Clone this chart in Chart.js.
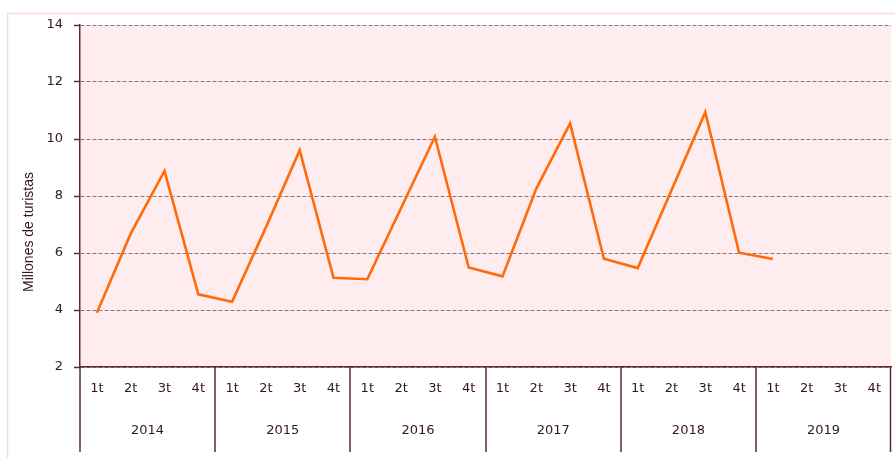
<!DOCTYPE html>
<html lang="es">
<head>
    <meta charset="UTF-8">
    <title>Millones de turistas por trimestre</title>
    <script src="https://cdn.jsdelivr.net/npm/chart.js"></script>
    <style>
        html, body { margin: 0; padding: 0; background: #fff; }
    </style>
</head>
<body>
    <canvas id="turistasChart" width="895" height="458"></canvas>

    <script>
        // datos
        const years = ['2014', '2015', '2016', '2017', '2018', '2019'];
        const quarters = ['1t', '2t', '3t', '4t'];
        const turistas = [
            3.90, 6.68, 8.88, 4.55,
            4.29, 6.90, 9.61, 5.13,
            5.08, 7.58, 10.08, 5.49,
            5.18, 8.26, 10.55, 5.80,
            5.47, 8.20, 10.94, 6.01,
            5.79, null, null, null
        ];
        const yMin = 2, yMax = 14, yStep = 2;
        const yTitle = 'Millones de turistas';

        const labels = years.flatMap(() => quarters);
        const textColor = '#331818';
        const axisColor = '#5e2c2c';
        const font = { family: 'DejaVu Sans', size: 13 };

        // fondo, marco y separadores de años
        const decor = {
            id: 'decor',
            beforeDraw(chart) {
                const { ctx, chartArea: a } = chart;
                ctx.save();
                ctx.fillStyle = '#ffecee';
                ctx.fillRect(a.left, a.top, a.right - a.left, a.bottom - a.top);
                ctx.strokeStyle = '#f8d9db';
                ctx.lineWidth = 1.5;
                ctx.beginPath();
                ctx.moveTo(7.5, 470);
                ctx.lineTo(7.5, 13.5);
                ctx.lineTo(905, 13.5);
                ctx.stroke();
                ctx.restore();
            },
            afterDraw(chart) {
                const { ctx, chartArea: a } = chart;
                const x2 = chart.scales.x2;
                const step = (x2.right - x2.left) / years.length;
                ctx.save();
                ctx.strokeStyle = axisColor;
                ctx.lineWidth = 1.5;
                ctx.beginPath();
                for (let k = 0; k <= years.length; k++) {
                    const px = Math.round(x2.left + k * step) + (k === years.length ? -0.5 : 0);
                    ctx.moveTo(px, a.bottom);
                    ctx.lineTo(px, x2.bottom);
                }
                ctx.stroke();

                // título del eje y
                ctx.fillStyle = textColor;
                ctx.font = '14px "Liberation Sans"';
                ctx.textAlign = 'center';
                ctx.textBaseline = 'middle';
                ctx.translate(29, 232);
                ctx.rotate(-Math.PI / 2);
                ctx.fillText(yTitle, 0, 0);
                ctx.restore();
            }
        };

        const chart = new Chart(document.getElementById('turistasChart'), {
            type: 'line',
            data: {
                labels: labels,
                datasets: [{
                    label: yTitle,
                    data: turistas,
                    borderColor: '#ff6a0a',
                    borderWidth: 2.6,
                    pointRadius: 0,
                    tension: 0,
                    fill: false
                }]
            },
            options: {
                responsive: false,
                animation: false,
                layout: { padding: { left: 0, right: 1, top: 25, bottom: 6 } },
                plugins: {
                    legend: { display: false },
                    tooltip: { enabled: false }
                },
                scales: {
                    y: {
                        min: yMin,
                        max: yMax,
                        afterFit: s => { s.width = 80; },
                        ticks: { stepSize: yStep, color: textColor, font: font, padding: 11 },
                        grid: {
                            color: '#85787f',
                            lineWidth: 1,
                            drawTicks: true,
                            tickLength: 6,
                            tickColor: axisColor,
                            tickBorderDash: [],
                            tickWidth: 1.5
                        },
                        border: { display: true, color: axisColor, width: 1.5, dash: [4, 2] }
                    },
                    x: {
                        type: 'category',
                        offset: true,
                        afterFit: s => { s.height = 42; },
                        ticks: { color: textColor, font: font, padding: 14, autoSkip: false, maxRotation: 0 },
                        grid: { display: false, drawTicks: false },
                        border: { display: true, color: axisColor, width: 1.5 }
                    },
                    x2: {
                        type: 'category',
                        position: 'bottom',
                        labels: years,
                        offset: true,
                        afterFit: s => { s.height = 43; },
                        ticks: { color: textColor, font: font, padding: 14, autoSkip: false, maxRotation: 0 },
                        grid: { display: false, drawTicks: false },
                        border: { display: false }
                    }
                }
            },
            plugins: [decor]
        });
    </script>
</body>
</html>
